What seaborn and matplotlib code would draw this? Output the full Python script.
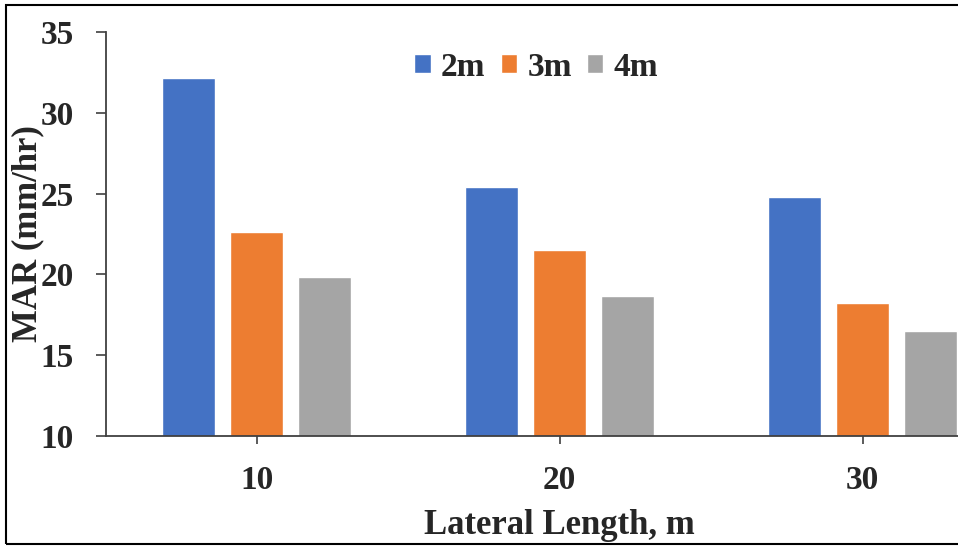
import matplotlib
matplotlib.use("Agg")
import matplotlib.pyplot as plt
import matplotlib.patches as mpatches
import seaborn as sns
import pandas as pd

# Lateral lengths (m) and MAR values (mm/hr) for each spacing
lateral_lengths = ["10", "20", "30"]
spacings = ["2m", "3m", "4m"]
mar_2m = [32.15, 25.4, 24.8]
mar_3m = [22.65, 21.5, 18.2]
mar_4m = [19.85, 18.65, 16.5]

colors = ["#4472C4", "#ED7D31", "#A5A5A5"]

rows = []
for spacing, values in zip(spacings, [mar_2m, mar_3m, mar_4m]):
    for length, v in zip(lateral_lengths, values):
        rows.append({"Lateral": length, "Spacing": spacing, "MAR": v})
df = pd.DataFrame(rows)

sns.set_theme(style="white")
plt.rcParams["font.family"] = ["Liberation Serif", "DejaVu Serif"]
plt.rcParams["font.weight"] = "bold"

W, H = 958, 547
fig = plt.figure(figsize=(W / 100, H / 100), dpi=100)
ax_left, ax_right, ax_top, ax_bottom = 106, 958, 32, 436
ax = fig.add_axes([ax_left / W, 1 - ax_bottom / H,
                   (ax_right - ax_left) / W, (ax_bottom - ax_top) / H])

sns.barplot(data=df, x="Lateral", y="MAR", hue="Spacing",
            order=lateral_lengths, hue_order=spacings,
            palette=colors, width=0.673, gap=0.22, saturation=1,
            ax=ax)

ax.set_ylim(10, 35)
ax.set_yticks([10, 15, 20, 25, 30, 35])
ax.set_xlim(-0.497, -0.497 + (ax_right - ax_left) / 303)

for s in ["top", "right"]:
    ax.spines[s].set_visible(False)
for s in ["left", "bottom"]:
    ax.spines[s].set_color("#404040")
    ax.spines[s].set_linewidth(1.3)

ax.tick_params(axis="y", which="major", left=True, length=7, width=1.2,
               color="#404040", pad=16, labelsize=24)
ax.tick_params(axis="x", which="major", bottom=True, length=6, width=1.2,
               color="#404040", pad=15, labelsize=24)
for lbl in ax.get_xticklabels() + ax.get_yticklabels():
    lbl.set_fontweight("bold")

ax.set_ylabel("MAR (mm/hr)", fontsize=25, fontweight="bold")
ax.set_xlabel("Lateral Length, m", fontsize=25, fontweight="bold")
ax.yaxis.label.set_verticalalignment("center")
ax.yaxis.set_label_coords(-0.092, 0.5)
ax.xaxis.label.set_verticalalignment("center")
ax.xaxis.set_label_coords(0.532, -0.222)

handles, labels = ax.get_legend_handles_labels()
ax.legend(handles, labels, loc="center", bbox_to_anchor=(0.505, 0.913),
          ncol=3, frameon=False, handlelength=0.5,
          handleheight=0.5, handletextpad=0.3, columnspacing=0.45,
          prop={"weight": "bold", "size": 24})

# Outer frame around the figure
fig.patches.append(mpatches.Rectangle((6 / W, 3 / H), (W + 5) / W, (H - 8) / H,
                                      transform=fig.transFigure, fill=False,
                                      edgecolor="black", linewidth=1.5))

fig.savefig("out.png", dpi=100)
